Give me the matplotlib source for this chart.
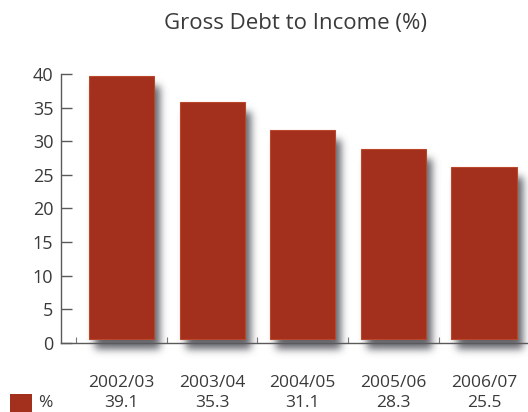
import numpy as np
import matplotlib
matplotlib.use("Agg")
import matplotlib.pyplot as plt
from matplotlib.patches import Rectangle

# Chart data
periods = ["2002/03", "2003/04", "2004/05", "2005/06", "2006/07"]
debt_to_income = [39.1, 35.3, 31.1, 28.3, 25.5]
y_ticks = [0, 5, 10, 15, 20, 25, 30, 35, 40]
series_name = "%"
title = "Gross Debt to Income (%)"

BAR_COLOR = "#a3301c"
TEXT_COLOR = "#3a3a3a"
AXIS_COLOR = "#5a5a5a"
BAR_LIFT = 0.6  # bars float just above the baseline

plt.rcParams["font.family"] = ["Open Sans", "DejaVu Sans"]


def _gauss_kernel(sigma):
    r = int(np.ceil(3 * sigma))
    x = np.arange(-r, r + 1)
    k = np.exp(-x ** 2 / (2.0 * sigma ** 2))
    return k / k.sum()


class DropShadow:
    """Agg filter: blurred, offset silhouette of the artist."""

    def __init__(self, sigma=4.0, dx=6, dy=10, alpha=0.85, color=(0.28, 0.29, 0.32)):
        self.sigma = sigma
        self.dx = dx
        self.dy = dy
        self.alpha = alpha
        self.color = color

    def __call__(self, im, dpi):
        pad = int(np.ceil(3 * self.sigma)) + max(self.dx, self.dy) + 2
        a = np.pad(im[:, :, 3], pad, mode="constant")
        k = _gauss_kernel(self.sigma)
        a = np.apply_along_axis(lambda m: np.convolve(m, k, mode="same"), 0, a)
        a = np.apply_along_axis(lambda m: np.convolve(m, k, mode="same"), 1, a)
        a = np.roll(a, self.dx, axis=1)
        a = np.roll(a, self.dy, axis=0)
        out = np.zeros(a.shape + (4,), dtype=float)
        out[:, :, 0] = self.color[0]
        out[:, :, 1] = self.color[1]
        out[:, :, 2] = self.color[2]
        out[:, :, 3] = np.clip(a * self.alpha, 0, 1)
        return out, -pad, -pad


W, H = 528, 412
fig = plt.figure(figsize=(W / 100, H / 100), dpi=100)
fig.patch.set_facecolor("white")

ax = fig.add_axes([61 / W, (H - 343) / H, (W - 61) / W, (343 - 74) / H])
ax.set_facecolor("white")

x = np.arange(len(periods))
bar_w = 0.72

# shadow layer
shadows = ax.bar(x, debt_to_income, width=bar_w, bottom=BAR_LIFT, color="black",
                 zorder=1)
for p in shadows:
    p.set_clip_on(False)
    p.set_agg_filter(DropShadow())
    p.set_rasterized(True)

# bars
ax.bar(x, debt_to_income, width=bar_w, bottom=BAR_LIFT, color=BAR_COLOR,
       edgecolor="#b9472b", linewidth=0.8, zorder=3)

ax.set_xlim(-0.668, 4.486)
ax.set_ylim(0, 40)

# spines
for s in ["top", "right"]:
    ax.spines[s].set_visible(False)
for s in ["left", "bottom"]:
    ax.spines[s].set_color(AXIS_COLOR)
    ax.spines[s].set_linewidth(1.0)
    ax.spines[s].set_zorder(4)

ax.set_yticks(y_ticks)
ax.set_yticklabels([str(v) for v in y_ticks])
ax.tick_params(axis="y", direction="in", length=8, width=1.0, color=AXIS_COLOR,
               labelsize=13, labelcolor=TEXT_COLOR, pad=5.5)

ax.set_xticks(x - 0.5)
ax.set_xticklabels([])
ax.tick_params(axis="x", direction="in", length=4, width=0.8, color="#777777")

# category and value rows under the axis
for xi, lab, val in zip(x, periods, debt_to_income):
    ax.text(xi, -40 / 269 * 40, lab, ha="center", va="center", fontsize=12.5,
            color=TEXT_COLOR, clip_on=False)
    ax.text(xi, -60 / 269 * 40, f"{val:.1f}", ha="center", va="center", fontsize=12.5,
            color=TEXT_COLOR, clip_on=False)

# legend key for the value row
fig.add_artist(Rectangle((10 / W, 0), 22 / W, (H - 394) / H,
                         transform=fig.transFigure, facecolor=BAR_COLOR,
                         edgecolor="none"))
fig.text(45 / W, (H - 403) / H, series_name, ha="center", va="center",
         fontsize=12.5, color=TEXT_COLOR)

fig.text(296 / W, (H - 24) / H, title, ha="center", va="center", fontsize=16,
         color=TEXT_COLOR)

fig.savefig("out.png", dpi=100)
